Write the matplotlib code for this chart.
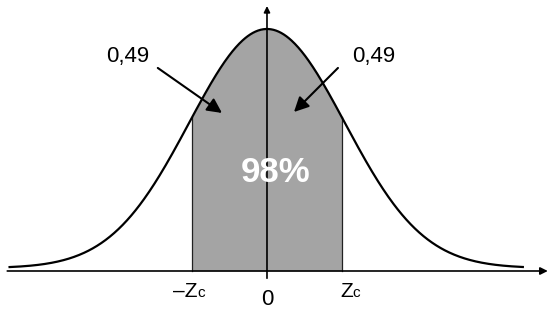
import numpy as np
import matplotlib
matplotlib.use("Agg")
import matplotlib.pyplot as plt

plt.rcParams['font.family'] = ['Liberation Sans', 'DejaVu Sans']

# curve drawn in sigma units (figure is not to scale, zc as drawn)
z_left, z_right = -3.3, 3.28
zc = 0.96
baseline = 0.012
area_side = "0,49"
area_total = "98%"

z = np.linspace(z_left, z_right, 600)
dens = baseline + (1 - baseline) * np.exp(-z**2 / 2)

fig = plt.figure(figsize=(5.52, 3.14), dpi=100)
ax = fig.add_axes([0, 0, 1, 1])
ax.set_xlim(-3.423, 3.654)
ax.set_ylim(-0.1777, 1.1198)
ax.axis('off')

# shaded central area
zs = np.linspace(-zc, zc, 200)
ds = baseline + (1 - baseline) * np.exp(-zs**2 / 2)
ax.fill_between(zs, 0, ds, color='#a4a4a4', lw=0)
ax.plot([-zc, -zc], [0, ds[0]], color='#222222', lw=0.9)
ax.plot([zc, zc], [0, ds[-1]], color='#222222', lw=0.9)

ax.plot(z, dens, color='black', lw=1.6)

# axes with arrows
ax.annotate('', xy=(3.6, 0), xytext=(-3.33, 0),
            arrowprops=dict(arrowstyle='-|>', color='black', lw=1.2,
                            mutation_scale=11, shrinkA=0, shrinkB=0))
ax.annotate('', xy=(0, 1.095), xytext=(0, -0.03),
            arrowprops=dict(arrowstyle='-|>', color='black', lw=1.2,
                            mutation_scale=9, shrinkA=0, shrinkB=0))

# labels with arrows
ax.annotate('', xy=(-0.577, 0.653), xytext=(-1.40, 0.839),
            arrowprops=dict(arrowstyle='-|>', color='black', lw=1.5,
                            mutation_scale=22, shrinkA=0, shrinkB=0))
ax.annotate('', xy=(0.346, 0.657), xytext=(0.91, 0.839),
            arrowprops=dict(arrowstyle='-|>', color='black', lw=1.5,
                            mutation_scale=22, shrinkA=0, shrinkB=0))
ax.text(-1.78, 0.888, area_side, fontsize=16, ha='center', va='center')
ax.text(1.37, 0.888, area_side, fontsize=16, ha='center', va='center')

ax.text(0.115, 0.409, area_total, fontsize=25, fontweight='bold',
        color='white', ha='center', va='center')

# tick labels
ax.text(-0.897, -0.106, '\u2013Z', fontsize=15, ha='right', va='baseline')
ax.text(-0.897, -0.106, 'c', fontsize=11, ha='left', va='baseline')
ax.text(0.936, -0.106, 'Z', fontsize=15, ha='left', va='baseline')
ax.text(1.09, -0.106, 'c', fontsize=11, ha='left', va='baseline')
ax.text(0, -0.16, '0', fontsize=16, ha='center', va='bottom')

fig.savefig('out.png', dpi=100)
